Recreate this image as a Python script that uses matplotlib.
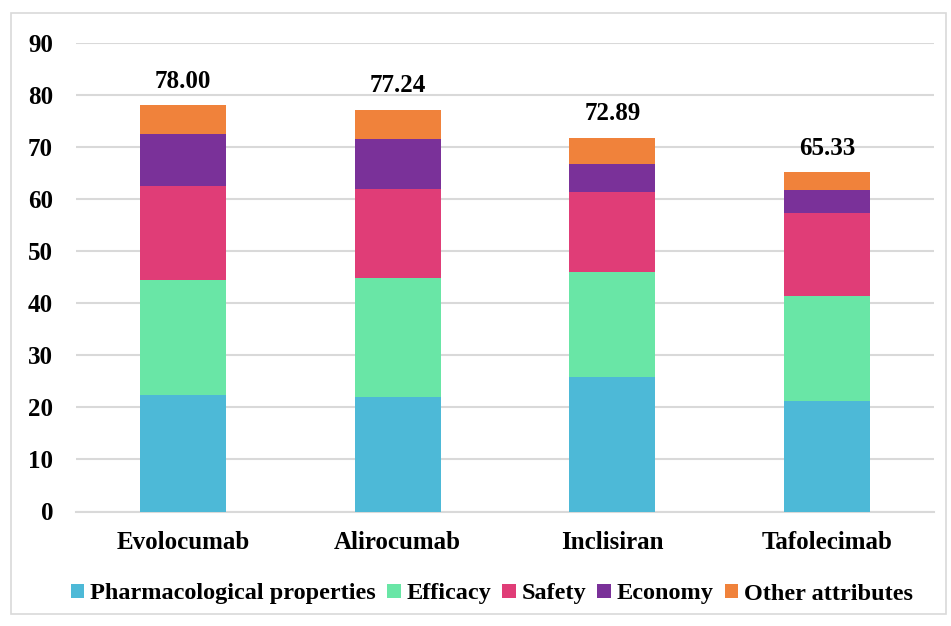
import matplotlib
matplotlib.use("Agg")
import matplotlib.pyplot as plt
import numpy as np
from matplotlib.patches import Rectangle

categories = ["Evolocumab", "Alirocumab", "Inclisiran", "Tafolecimab"]
series_names = ["Pharmacological properties", "Efficacy", "Safety", "Economy", "Other attributes"]
pharmacological = [22.4, 22.0, 25.9, 21.2]
efficacy = [22.0, 22.9, 20.1, 20.2]
safety = [18.2, 17.1, 15.4, 16.0]
economy = [9.9, 9.6, 5.4, 4.4]
other = [5.5, 5.6, 5.0, 3.4]
total_labels = ["78.00", "77.24", "72.89", "65.33"]
y_ticks = [0, 10, 20, 30, 40, 50, 60, 70, 80, 90]

colors = ["#4DB9D7", "#69E6A6", "#E03D77", "#7A3199", "#F0823B"]

plt.rcParams['font.family'] = ['Liberation Serif', 'DejaVu Serif']
plt.rcParams['font.weight'] = 'bold'

fig = plt.figure(figsize=(9.51, 6.26), dpi=100)
fig.patches.append(Rectangle((11/951, 1 - 614/626), (946-11)/951, (614-13)/626,
                             transform=fig.transFigure, fill=False,
                             edgecolor="#D9D9D9", linewidth=1.2))
ax = fig.add_axes([76/951, 1 - 511.5/626, (934-76)/951, (511.5-43)/626])

x = np.arange(len(categories))
data = [pharmacological, efficacy, safety, economy, other]
bottom = np.zeros(len(categories))
handles = []
for vals, name, c in zip(data, series_names, colors):
    b = ax.bar(x, vals, width=0.40, bottom=bottom, color=c, label=name, zorder=3)
    handles.append(b)
    bottom = bottom + np.array(vals)

for xi, top, lab in zip(x, bottom, total_labels):
    ax.annotate(lab, (xi, top), xytext=(0, 9), textcoords="offset points",
                ha="center", va="bottom", fontsize=18, fontweight="bold")

ax.set_xlim(-0.5, len(categories) - 0.5)
ax.set_ylim(0, 90)
ax.set_yticks(y_ticks)
ax.set_yticklabels([str(t) for t in y_ticks])
ax.set_xticks(x)
ax.set_xticklabels(categories)
ax.tick_params(axis="both", length=0, labelsize=18)
ax.tick_params(axis="y", pad=16.5)
ax.tick_params(axis="x", pad=14)
ax.yaxis.grid(True, color="#D9D9D9", linewidth=1.5, zorder=0)
ax.set_axisbelow(True)
for s in ["top", "right", "left"]:
    ax.spines[s].set_visible(False)
ax.spines["bottom"].set_color("#D9D9D9")
ax.spines["bottom"].set_linewidth(1.5)

fig.legend(handles=handles, labels=series_names, loc="center",
           bbox_to_anchor=(492/951, 1 - 594/626), ncol=5, frameon=False,
           fontsize=17.5, handlelength=0.55, handleheight=0.55, handletextpad=0.25,
           columnspacing=0.45)

fig.savefig("out.png", dpi=100)
